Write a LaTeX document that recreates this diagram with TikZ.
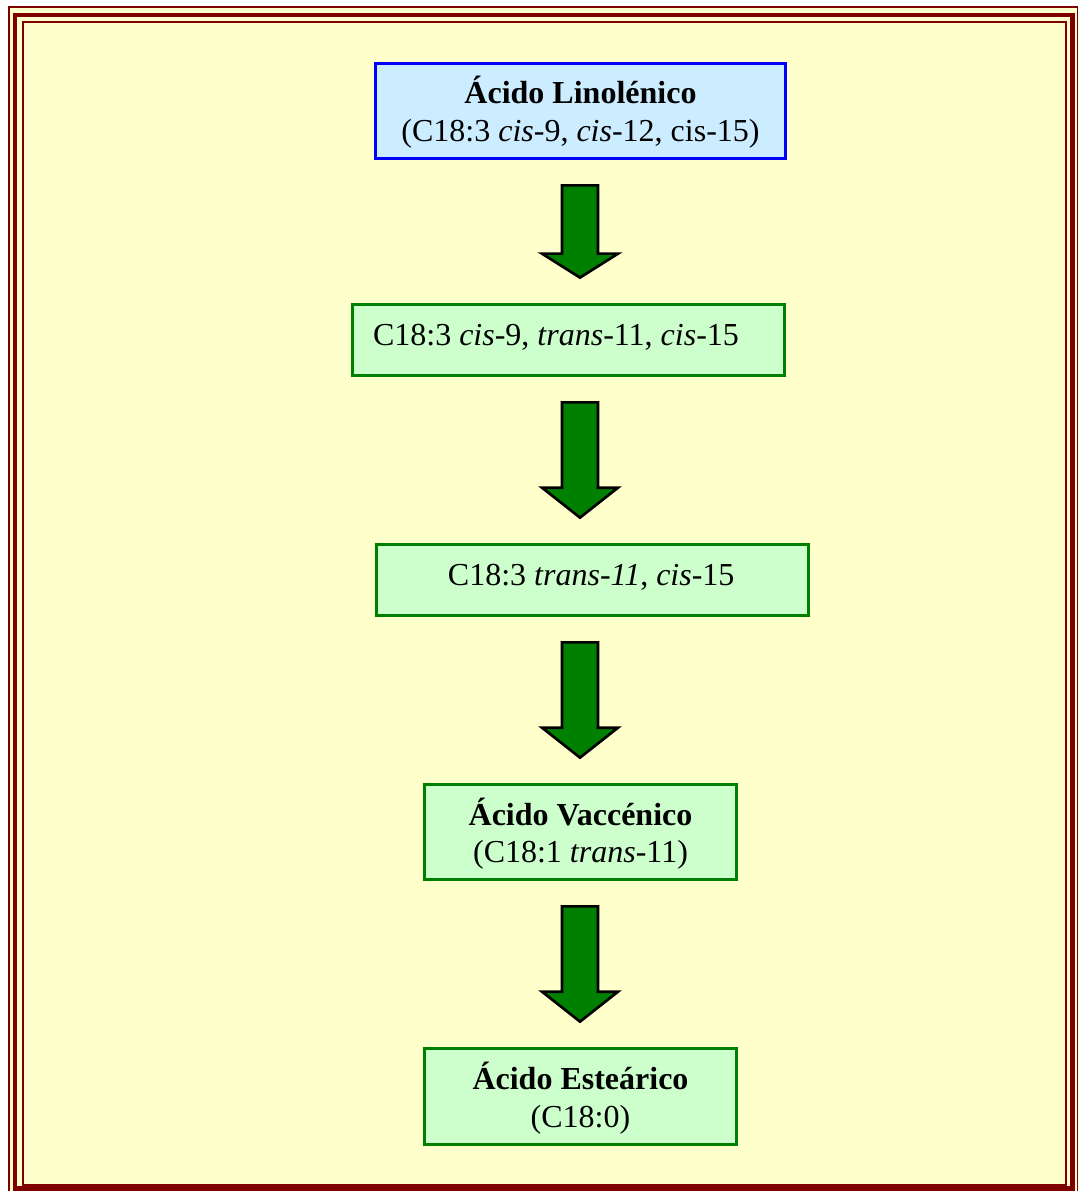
\documentclass[tikz,border=0pt]{standalone}
\usepackage{fontspec}
\setmainfont{Liberation Serif}
\usetikzlibrary{calc}
\definecolor{bgyellow}{HTML}{FFFFCC}
\definecolor{framered}{HTML}{800000}
\definecolor{boxgreen}{HTML}{CCFFCC}
\definecolor{edgegreen}{HTML}{008000}
\definecolor{boxblue}{HTML}{CCECFF}
\definecolor{edgeblue}{HTML}{0000FF}
\definecolor{arrowgreen}{HTML}{008000}
\tikzset{
  basebox/.style={draw, line width=2.8pt, inner sep=0pt,
    font=\fontsize{24}{28.125}\selectfont},
  twoline/.style={basebox, align=center, text height=48pt, text depth=2.25pt},
  oneline/.style={basebox, text height=12pt, text depth=4.5pt},
  bluebox/.style={draw=edgeblue, fill=boxblue},
  greenbox/.style={draw=edgegreen, fill=boxgreen},
  fatarrow/.style={draw=black, line width=2pt, fill=arrowgreen, line join=miter,
    to path={let \p1=(\tikztostart), \p2=(\tikztotarget),
      \n1={\y1-18.75pt}, \n2={\y2+18.75pt}, \n3={\n2+0.26*(\n1-\n2)} in
      (\x1-13.5pt,\n1) -- (\x1+13.5pt,\n1) -- (\x1+13.5pt,\n3) -- (\x1+28.5pt,\n3)
      -- (\x1,\n2) -- (\x1-28.5pt,\n3) -- (\x1-13.5pt,\n3) -- cycle}}
}
\newcommand{\offsetline}[3]{\makebox[#1][l]{\hspace*{#2}#3}}
\begin{document}
\begin{tikzpicture}[x=0.75pt,y=-0.75pt]
\useasboundingbox (0,0) rectangle (1077,1191);
\fill[white] (0,0) rectangle (1077,1191);
% frame
\draw[framered, line width=1.5pt, fill=bgyellow] (8.5,7.5) rectangle (1078,1193);
\draw[framered, line width=3.375pt] (15,15) rectangle (1072.5,1188.5);
\draw[framered, line width=1.5pt] (23,22.5) rectangle (1066,1185);
% axis for the arrows
\coordinate (axis) at (580,0);
% boxes
\node[twoline, bluebox, minimum width=307.5pt, minimum height=71.25pt] (b1) at (580.5,111)
  {\textbf{Ácido Linolénico}\\(C18:3 \textit{cis}-9, \textit{cis}-12, cis-15)};
\node[oneline, greenbox, minimum width=324pt, minimum height=53.25pt] (b2) at (568.5,340)
  {\offsetline{324pt}{15.4pt}{C18:3 \textit{cis}-9, \textit{trans}-11, \textit{cis}-15}};
\node[oneline, greenbox, minimum width=324pt, minimum height=53.25pt] (b3) at (592.5,580)
  {\offsetline{324pt}{53.6pt}{C18:3 \textit{trans-11}, \textit{cis}-15}};
\node[twoline, greenbox, minimum width=234pt, minimum height=71.25pt] (b4) at (580.5,832)
  {\textbf{Ácido Vaccénico}\\(C18:1 \textit{trans}-11)};
\node[twoline, greenbox, minimum width=234pt, minimum height=72pt] (b5) at (580.5,1096.5)
  {\textbf{Ácido Esteárico}\\(C18:0)};
% arrows
\draw[fatarrow] (b1.south -| axis) to (b2.north -| axis);
\draw[fatarrow] (b2.south -| axis) to (b3.north -| axis);
\draw[fatarrow] (b3.south -| axis) to (b4.north -| axis);
\draw[fatarrow] (b4.south -| axis) to (b5.north -| axis);
\end{tikzpicture}
\end{document}
